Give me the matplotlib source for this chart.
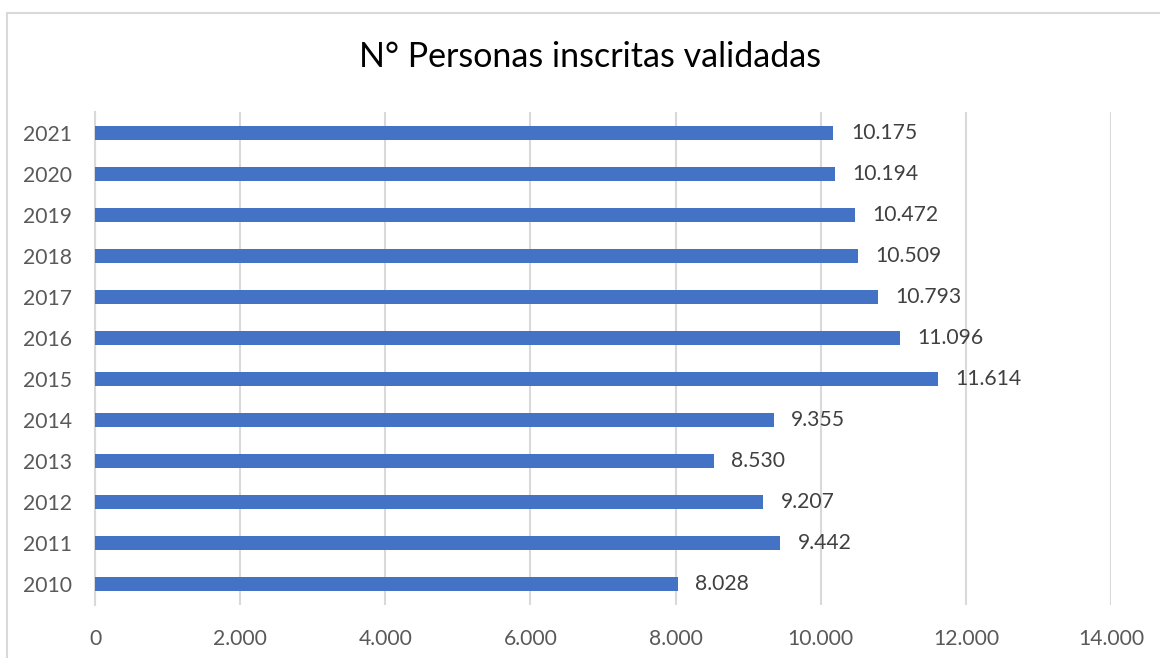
import matplotlib
matplotlib.use("Agg")
import matplotlib.pyplot as plt
from matplotlib.patches import Rectangle

years = ["2010", "2011", "2012", "2013", "2014", "2015", "2016", "2017", "2018", "2019", "2020", "2021"]
values = [8028, 9442, 9207, 8530, 9355, 11614, 11096, 10793, 10509, 10472, 10194, 10175]
xticks = [0, 2000, 4000, 6000, 8000, 10000, 12000, 14000]
title = "N° Personas inscritas validadas"

def fmt(v):
    return f"{v:,}".replace(",", ".")

plt.rcParams['font.family'] = ['Lato', 'DejaVu Sans']

W, H = 1160, 658
fig = plt.figure(figsize=(W/100, H/100), dpi=100)
fig.patch.set_facecolor("white")

# outer chart border
fig.patches.append(Rectangle((7/W, -0.05), 1.2, 1 - 13/H + 0.05, transform=fig.transFigure,
                             fill=False, edgecolor="#d9d9d9", linewidth=1.5))

ax = fig.add_axes([95/W, 1 - 605/H, (1111 - 95)/W, (605 - 112)/H])
pos = list(range(len(years)))
ax.barh(pos, values, height=0.34, color="#4472C4", zorder=3)
for p, v in zip(pos, values):
    ax.text(v + 240, p, fmt(v), va="center", ha="left", fontsize=15.2, color="#404040")

ax.set_xlim(0, 14000)
ax.set_ylim(-0.5, len(years) - 0.5)
ax.set_xticks(xticks)
ax.set_xticklabels([fmt(t) for t in xticks])
ax.set_yticks(pos)
ax.set_yticklabels(years)
ax.tick_params(axis="both", length=0, labelsize=15.2, colors="#595959")
ax.tick_params(axis="x", pad=17)
ax.tick_params(axis="y", pad=16.5)
ax.grid(axis="x", color="#d9d9d9", linewidth=1.5, zorder=0)
for s in ["top", "right", "bottom"]:
    ax.spines[s].set_visible(False)
ax.spines["left"].set_color("#d9d9d9")
ax.spines["left"].set_linewidth(1.5)

fig.text(590/W, 1 - 57/H, title, ha="center", va="center", fontsize=24.5, color="#000000")

fig.savefig("out.png", dpi=100, facecolor="white")
